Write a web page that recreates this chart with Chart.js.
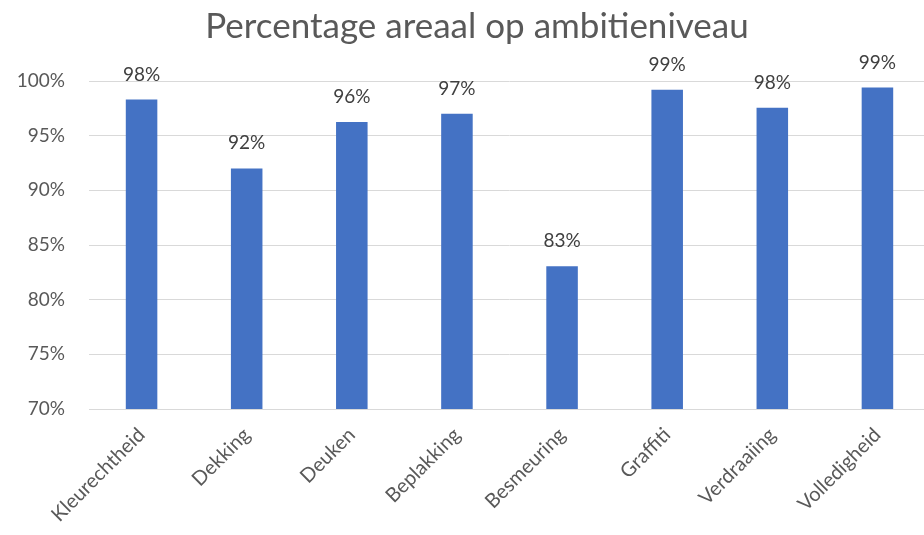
<!DOCTYPE html>
<html>
<head>
<meta charset="utf-8">
<script src="https://cdn.jsdelivr.net/npm/chart.js@4.4.0/dist/chart.umd.min.js"></script>
<style>
  html, body { margin: 0; padding: 0; background: #ffffff; overflow: hidden; }
  #wrap { position: relative; width: 930px; height: 535px; }
</style>
</head>
<body>
<div id="wrap"><canvas id="c" width="930" height="535"></canvas></div>
<script>
const categories = ["Kleurechtheid", "Dekking", "Deuken", "Beplakking", "Besmeuring", "Graffiti", "Verdraaiing", "Volledigheid"];
const values = [98.3, 92.0, 96.25, 97.0, 83.05, 99.2, 97.55, 99.4];
const valueLabels = ["98%", "92%", "96%", "97%", "83%", "99%", "98%", "99%"];
const titleText = "Percentage areaal op ambitieniveau";
const yMin = 70, yMax = 100, yStep = 5;

const FONT = "Lato, 'Open Sans', sans-serif";

const labelPlugin = {
  id: 'valueLabels',
  afterDatasetsDraw(chart) {
    const ctx = chart.ctx;
    const meta = chart.getDatasetMeta(0);
    ctx.save();
    ctx.font = "19px " + FONT;
    ctx.fillStyle = "#404040";
    ctx.textAlign = "center";
    ctx.textBaseline = "alphabetic";
    meta.data.forEach((bar, i) => {
      ctx.fillText(valueLabels[i], bar.x, bar.y - 19);
    });
    ctx.restore();
  }
};

const titlePlugin = {
  id: 'shiftedTitle',
  afterDraw(chart) {
    const ctx = chart.ctx;
    ctx.save();
    ctx.font = "35px " + FONT;
    ctx.fillStyle = "#595959";
    ctx.textAlign = "center";
    ctx.textBaseline = "middle";
    ctx.fillText(titleText, 477, 27);
    ctx.restore();
  }
};

new Chart(document.getElementById('c'), {
  type: 'bar',
  data: {
    labels: categories,
    datasets: [{
      data: values,
      backgroundColor: '#4472C4',
      borderWidth: 0,
      barPercentage: 0.3,
      categoryPercentage: 1.0
    }]
  },
  options: {
    responsive: false,
    animation: false,
    devicePixelRatio: 1,
    layout: { padding: { left: 0, right: 0, top: 81, bottom: 0 } },
    plugins: {
      legend: { display: false },
      tooltip: { enabled: false },
      title: { display: false }
    },
    scales: {
      x: {
        grid: { display: false, drawTicks: false },
        border: { display: true, color: '#d9d9d9', width: 1 },
        ticks: {
          autoSkip: false,
          maxRotation: 45,
          minRotation: 45,
          color: '#595959',
          font: { family: FONT, size: 20 },
          padding: 14
        },
        afterFit(scale) { scale.height = 126; }
      },
      y: {
        min: yMin,
        max: yMax,
        grid: { color: '#d9d9d9', lineWidth: 1, drawTicks: false },
        border: { display: false },
        ticks: {
          stepSize: yStep,
          color: '#595959',
          font: { family: FONT, size: 19 },
          padding: 24,
          callback: (v) => v + '%'
        },
        afterFit(scale) { scale.width = 89; }
      }
    }
  },
  plugins: [labelPlugin, titlePlugin]
});
</script>
</body>
</html>
